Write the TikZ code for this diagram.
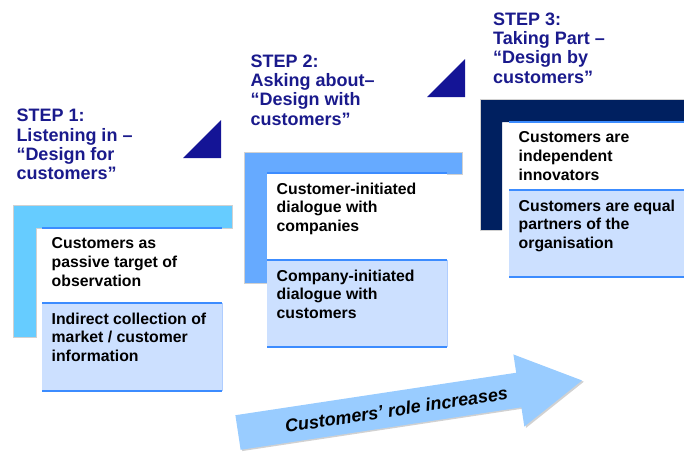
\documentclass[tikz,border=0pt]{standalone}
\usepackage{fontspec}
\setmainfont{Liberation Sans}
\definecolor{headblue}{RGB}{26,26,140}
\definecolor{lone}{RGB}{102,204,255}
\definecolor{ltwo}{RGB}{102,170,255}
\definecolor{lthree}{RGB}{0,32,96}
\definecolor{tri}{RGB}{20,20,150}
\definecolor{boxfill}{RGB}{204,224,255}
\definecolor{boxline}{RGB}{60,140,255}
\definecolor{boxedge}{RGB}{175,205,255}
\definecolor{arrowfill}{RGB}{153,204,255}
\begin{document}
\begin{tikzpicture}[x=1pt,y=-1pt,
  heading/.style={anchor=north west, inner sep=0pt, align=left, text=headblue,
    font=\bfseries\fontsize{18}{19.3}\selectfont},
  boxtext/.style={anchor=north west, inner sep=0pt, align=left, text=black,
    font=\bfseries\fontsize{15.8}{18.7}\selectfont, xshift=9.5pt, yshift=-9.5pt},
  whitebox/.style={anchor=north west, inner sep=0pt, outer sep=0pt, fill=white},
  lightbox/.style={anchor=north west, inner sep=0pt, outer sep=0pt, fill=boxfill},
  bline/.style={draw=boxline, line width=2pt},
  bedge/.style={draw=boxedge, line width=0.8pt},
  lshape/.style={draw=black!18, line width=0.6pt}
]
\useasboundingbox (0,0) rectangle (684,452);

% ---------- STEP 1 ----------
\fill[lone] (13,205) -- (232,205) -- (232,228) -- (36,228) -- (36,337) -- (13,337) -- cycle;
\draw[lshape] (13,205) -- (232,205) -- (232,228) -- (36,228) -- (36,337) -- (13,337) -- cycle;
\node[whitebox, minimum width=180pt, minimum height=75pt] (b1a) at (42,228) {};
\node[lightbox, minimum width=180pt, minimum height=88pt] (b1b) at (42,303) {};
\draw[bedge] (b1b.north east) -- (b1b.south east);
\draw[bline] (b1a.north west) -- (b1a.north east);
\draw[bline] (b1b.north west) -- (b1b.north east);
\draw[bline] (b1b.south west) -- (b1b.south east);
\node[boxtext] (t1a) at (b1a.north west) {Customers as\\passive target of\\observation};
\node[boxtext] (t1b) at (b1b.north west) {Indirect collection of\\market / customer\\information};
\fill[tri] (183,158) -- (221,158) -- (221,120) -- cycle;
\node[heading] (h1) at (16.3,109.1) {STEP 1:\\Listening in --\\``Design for\\customers''};

% ---------- STEP 2 ----------
\fill[ltwo] (244,152) -- (462,152) -- (462,174) -- (267,174) -- (267,283) -- (244,283) -- cycle;
\draw[lshape] (244,152) -- (462,152) -- (462,174) -- (267,174) -- (267,283) -- (244,283) -- cycle;
\node[whitebox, minimum width=180pt, minimum height=87pt] (b2a) at (267,173) {};
\node[lightbox, minimum width=180pt, minimum height=87pt] (b2b) at (267,260) {};
\draw[bedge] (b2b.north east) -- (b2b.south east);
\draw[bline] (b2a.north west) -- (b2a.north east);
\draw[bline] (b2b.north west) -- (b2b.north east);
\draw[bline] (b2b.south west) -- (b2b.south east);
\node[boxtext] (t2a) at (b2a.north west) {Customer-initiated\\dialogue with\\companies};
\node[boxtext] (t2b) at (b2b.north west) {Company-initiated\\dialogue with\\customers};
\node[heading] (h2) at (250.5,54.4) {STEP 2:\\Asking about--\\``Design with\\customers''};

% ---------- STEP 3 ----------
\fill[lthree] (480,99) -- (684,99) -- (684,122) -- (502,122) -- (502,230) -- (480,230) -- cycle;
\draw[lshape] (684,99) -- (480,99) -- (480,230) -- (502,230);
\node[whitebox, minimum width=175pt, minimum height=68pt] (b3a) at (509,122) {};
\node[lightbox, minimum width=175pt, minimum height=87pt] (b3b) at (509,190) {};
\draw[bline] (b3a.north west) -- (b3a.north east);
\draw[bline] (b3b.north west) -- (b3b.north east);
\draw[bline] (b3b.south west) -- (b3b.south east);
\node[boxtext] (t3a) at (b3a.north west) {Customers are\\independent\\innovators};
\node[boxtext] (t3b) at (b3b.north west) {Customers are equal\\partners of the\\organisation};
\fill[tri] (427,97) -- (465,97) -- (465,59) -- cycle;
\node[heading] (h3) at (493,12.4) {STEP 3:\\Taking Part --\\``Design by\\customers''};

% ---------- ARROW ----------
\begin{scope}[shift={(238,432.5)}, rotate=8.6]
  \fill[black, opacity=0.18] (1.5,-16) -- (285.5,-16) -- (285.5,-34.5) -- (349.5,1.5)
     -- (285.5,38.5) -- (285.5,19) -- (1.5,19) -- cycle;
  \fill[arrowfill] (0,-17.5) -- (284,-17.5) -- (284,-36) -- (348,0)
     -- (284,37) -- (284,17.5) -- (0,17.5) -- cycle;
  \node[rotate=8.6, inner sep=0pt, font=\bfseries\itshape\fontsize{18}{20}\selectfont] (arrowtext) at (160,1) {Customers’ role increases};
\end{scope}
\end{tikzpicture}
\end{document}
